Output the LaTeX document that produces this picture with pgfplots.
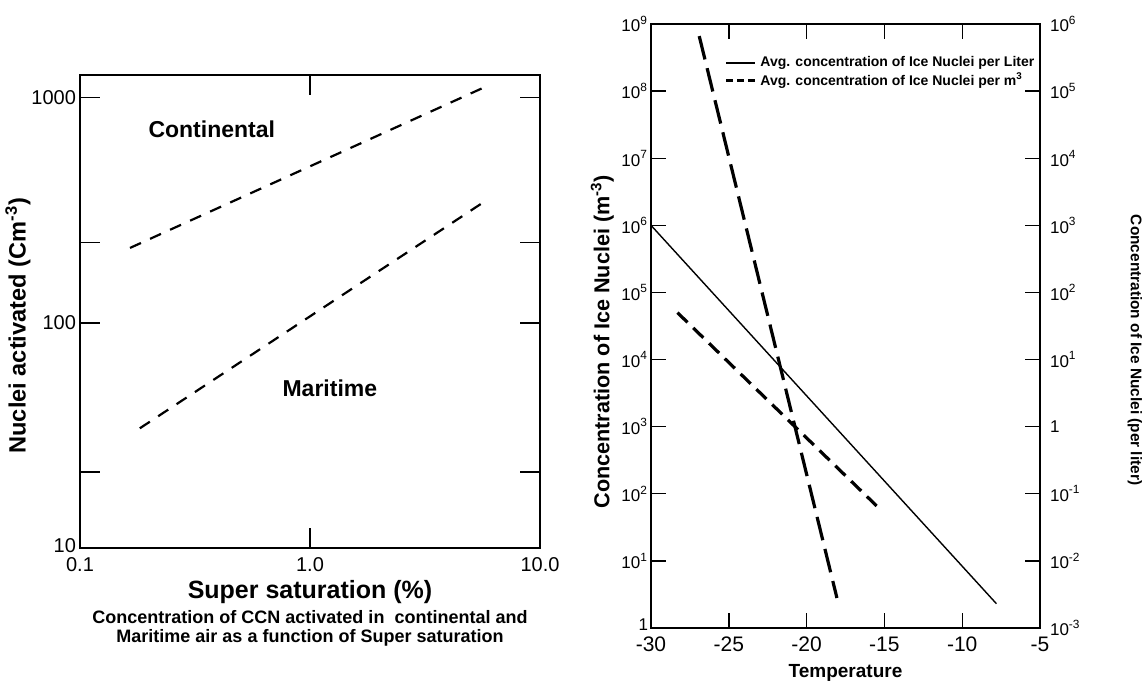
\documentclass[border=0pt]{standalone}
\usepackage{pgfplots}
\pgfplotsset{compat=1.18}
\usepackage{fontspec}
\setmainfont{Liberation Sans}
\newcommand{\sz}[1]{\fontsize{#1}{#1}\selectfont}

\begin{document}
\begin{tikzpicture}
\path[use as bounding box] (0,0) rectangle (572.5bp,342.5bp);

% ---------------- left chart ----------------
\begin{axis}[
  at={(40bp,68.5bp)}, anchor=south west, scale only axis,
  width=230bp, height=236.5bp,
  xmode=log, ymode=log,
  xmin=0.1, xmax=10, ymin=10, ymax=1260,
  xtick={0.1,1,10}, xticklabels={0.1,1.0,10.0},
  ytick={10,100,1000}, yticklabels={\raisebox{2.5bp}{10},100,1000},
  extra y ticks={21.7,227}, extra y tick labels={\phantom{0},\phantom{0}},
  xminorticks=false, yminorticks=false,
  tick align=inside, major tick length=10bp,
  axis line style={line width=1bp},
  tick style={black, line width=0.8bp},
  xticklabel style={font=\sz{10bp}, yshift=-1bp},
  yticklabel style={font=\sz{10bp}, xshift=1.5bp},
  xlabel={\textbf{Super saturation (\%)}},
  ylabel={\textbf{Nuclei activated (Cm\textsuperscript{-3})}},
  xlabel style={font=\sz{12.5bp}, at={(axis description cs:0.5,-0.093)}, anchor=center},
  ylabel style={font=\sz{11.8bp}, at={(axis description cs:-0.135,0.47)}, anchor=center},
  clip=false,
]
\addplot[black, line width=1.1bp, dash pattern=on 6bp off 5bp] coordinates {(0.165,215) (5.77,1115)};
\addplot[black, line width=1.1bp, dash pattern=on 6bp off 5bp] coordinates {(0.182,34) (5.8,348)};
\node[font=\sz{11.5bp}\bfseries] at (axis cs:0.374,722) {Continental};
\node[font=\sz{11.5bp}\bfseries] at (axis cs:1.22,51) {Maritime};
\end{axis}

\node[align=center, font=\fontsize{9bp}{9.5bp}\selectfont\bfseries] at (155bp,28.5bp)
  {Concentration of CCN activated in \ continental and\\Maritime air as a function of Super saturation};

% ---------------- right chart ----------------
\begin{axis}[
  at={(325.5bp,28.5bp)}, anchor=south west, scale only axis,
  width=194.5bp, height=302bp,
  ymode=log, xmin=-30, xmax=-5, ymin=1, ymax=1e9,
  xtick={-30,-25,-20,-15,-10,-5}, xticklabels={-30,-25,-20,-15,-10,-5},
  ytick={1,10,100,1000,1e4,1e5,1e6,1e7,1e8,1e9},
  yticklabels={\raisebox{3.5bp}{1},10\textsuperscript{1},10\textsuperscript{2},10\textsuperscript{3},10\textsuperscript{4},10\textsuperscript{5},10\textsuperscript{6},10\textsuperscript{7},10\textsuperscript{8},10\textsuperscript{9}},
  yminorticks=false,
  tick align=inside, major tick length=7.5bp,
  axis line style={line width=1.3bp},
  tick style={black, line width=0.7bp},
  xticklabel style={font=\sz{10.5bp}, yshift=-1bp},
  yticklabel style={font=\sz{8.5bp}, xshift=2bp},
  xlabel={\textbf{Temperature}},
  ylabel={\textbf{Concentration of Ice Nuclei (m\textsuperscript{-3})}},
  xlabel style={font=\sz{9.5bp}, at={(axis description cs:0.5,-0.075)}, anchor=center},
  ylabel style={font=\sz{10.8bp}, at={(axis description cs:-0.125,0.474)}, anchor=center},
  legend style={draw=none, fill=none, at={(axis description cs:1.012,0.96)}, anchor=north east,
    font=\sz{7bp}\bfseries, row sep=-2.5bp},
  legend cell align=left,
  legend image code/.code={\draw[#1] (0bp,0bp) -- (14.5bp,0bp);},
  clip=false,
]
\addlegendimage{black, line width=0.7bp}
\addlegendentry{Avg. concentration of Ice Nuclei per Liter}
\addlegendimage{black, line width=1.1bp, dash pattern=on 3.5bp off 2bp}
\addlegendentry{Avg. concentration of Ice Nuclei per m\textsuperscript{3}}
\addplot[black, line width=0.7bp, forget plot] coordinates {(-30,1e6) (-7.8,2.3)};
\addplot[black, line width=1.6bp, dash pattern=on 12bp off 4.5bp, forget plot] coordinates {(-26.9,6.6e8) (-18.05,2.8)};
\addplot[black, line width=1.6bp, dash pattern=on 7bp off 4bp, forget plot] coordinates {(-28.3,5e4) (-15.5,66)};
\end{axis}

\begin{axis}[
  at={(325.5bp,28.5bp)}, anchor=south west, scale only axis,
  width=194.5bp, height=302bp,
  ymode=log, xmin=-30, xmax=-5, ymin=1e-3, ymax=1e6,
  hide x axis, axis y line*=right,
  axis line style={line width=1.3bp},
  ytick={1e-3,1e-2,1e-1,1,10,100,1000,1e4,1e5,1e6},
  yticklabels={10\textsuperscript{-3},10\textsuperscript{-2},10\textsuperscript{-1},1,10\textsuperscript{1},10\textsuperscript{2},10\textsuperscript{3},10\textsuperscript{4},10\textsuperscript{5},10\textsuperscript{6}},
  yminorticks=false, major tick length=0pt,
  yticklabel style={font=\sz{8.5bp}, xshift=1.5bp},
  ylabel={\textbf{Concentration of Ice Nuclei (per liter)}},
  ylabel style={font=\sz{7.7bp}, at={(axis description cs:1.244,0.46)}, anchor=center, rotate=180},
]
\addplot[draw=none, forget plot] coordinates {(-30,1) (-5,1)};
\end{axis}
\end{tikzpicture}
\end{document}
